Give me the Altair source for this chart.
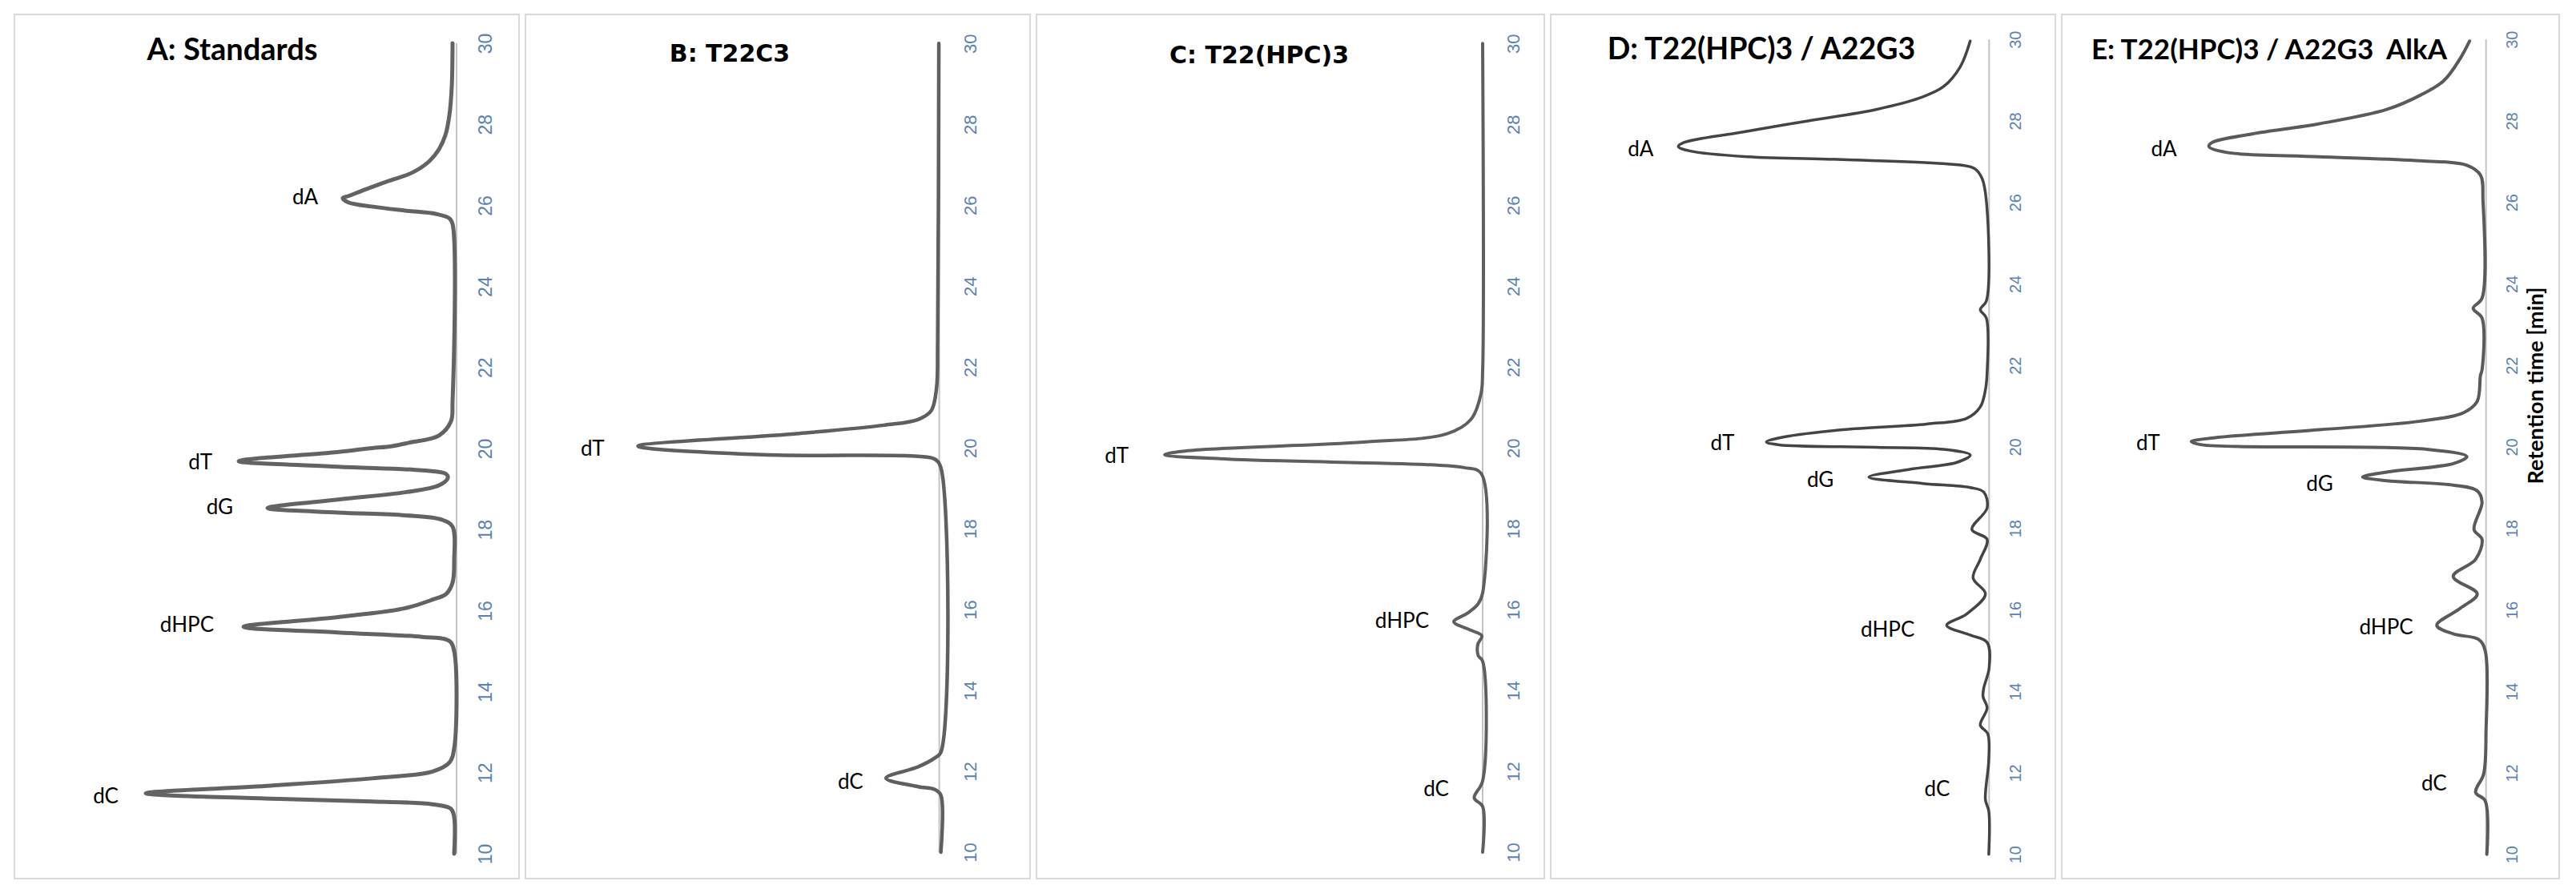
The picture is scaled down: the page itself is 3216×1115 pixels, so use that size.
import altair as alt
import pandas as pd

# ---------------- data (retention time [min], detector signal [a.u.]) ----------------
TICKS = [10, 12, 14, 16, 18, 20, 22, 24, 26, 28, 30]
AX_SPAN = [10, 30]

TITLES = ["A: Standards", "B: T22C3", "C: T22(HPC)3",
          "D: T22(HPC)3 / A22G3", "E: T22(HPC)3 / A22G3\u00a0 AlkA"]
Y_TITLE = "Retention time [min]"

# Panel A: standards
T_A = [30.0, 28.93, 28.22, 27.73, 27.38, 27.09, 26.81, 26.60, 26.39, 26.23, 26.18, 26.07, 25.97,
       25.87, 25.79, 25.68, 25.54, 21.17, 20.67, 20.32, 20.14, 20.06, 20.00, 19.90, 19.69, 19.55,
       19.46, 19.37, 19.27, 19.09, 18.92, 18.74, 18.53, 18.42, 18.35, 18.24, 18.07, 17.25, 16.69,
       16.41, 16.27, 16.06, 15.84, 15.60, 15.46, 15.35, 15.25, 15.00, 12.60, 12.25, 12.03, 11.86,
       11.68, 11.49, 11.36, 11.29, 11.22, 11.11, 10.90, 10.0]
S_A = [5, 6, 9, 14, 22, 34, 55, 85, 114, 135, 142, 135, 106,
       64, 26, 9, 5, 5, 7, 22, 60, 80, 110, 155, 272, 148,
       43, 13, 11, 22, 64, 148, 236, 148, 64, 18, 5, 3, 5,
       13, 30, 64, 148, 266, 148, 43, 9, 3, 3, 9, 30, 106,
       232, 388, 232, 106, 30, 7, 3, 3]
LBL_A = ["dA", "dT", "dG", "dHPC", "dC"]
LBL_A_T = [26.19, 19.65, 18.53, 15.63, 11.40]
LBL_A_S = [173, 305, 279, 303, 422]

# Panel B: T22C3
T_B = [30.0, 22.61, 21.48, 20.92, 20.70, 20.56, 20.35, 20.04, 19.83, 19.79, 19.72, 19.51,
       12.47, 12.33, 12.11, 11.83, 11.62, 11.55, 11.41, 10.0]
S_B = [0.5, 2, 3.4, 10, 26.5, 69, 178, 376, 220, 26.5, 5.5, -2,
       -2, 5.5, 26.5, 66.5, 26.5, 5.5, -2, -2]
LBL_B = ["dT", "dC"]
LBL_B_T = [19.96, 11.73]
LBL_B_S = [418, 95]

# Panel C: T22(HPC)3
T_C = [30.0, 21.90, 21.34, 20.70, 20.35, 20.14, 19.93, 19.83, 19.72, 19.58, 19.51, 19.37,
       16.41, 16.13, 15.91, 15.70, 15.49, 15.35, 15.14, 14.86, 14.72, 11.76, 11.34, 11.13, 10.0]
S_C = [0, 0, 2, 14.7, 44, 149, 368, 397, 318, 65, 23, 2,
       0, 6, 19, 36, 15, 1, 6, 5.5, 0, 0, 10.5, 0, 0]
LBL_C = ["dT", "dHPC", "dC"]
LBL_C_T = [19.79, 15.70, 11.55]
LBL_C_S = [442, 67, 42]

# Panel D: T22(HPC)3 / A22G3
T_D = [29.96, 29.33, 28.84, 28.56, 28.28, 28.00, 27.72, 27.47, 27.37, 27.26, 27.12, 27.05,
       26.95, 26.84, 26.60, 26.03, 23.58, 23.37, 23.16, 21.82, 21.40, 20.98, 20.70, 20.56,
       20.42, 20.22, 20.12, 20.05, 19.99, 19.94, 19.80, 19.62, 19.45, 19.26, 19.10, 19.00,
       18.89, 18.50, 17.97, 17.73, 17.24, 16.78, 16.39, 15.90, 15.62, 15.38, 15.20, 14.57,
       14.08, 13.87, 13.59, 13.17, 12.96, 12.32, 11.34, 11.06, 10.0]
S_D = [23.6, 36, 57, 87, 141, 226, 310, 381, 388, 373, 301, 183,
       57, 19, 9, 3.4, 3.4, 11, 3.4, 2.5, 4.6, 11, 28, 78,
       183, 262, 278, 262, 141, 57, 23.6, 40, 99, 150, 82.5, 23.6,
       6.7, 2.5, 21.5, 2.5, 11, 20, 4.6, 28, 53, 23.6, 2.5, 0,
       6.7, 7.6, 2.5, 11, 1.7, 0.4, 4.6, 0.4, 0.4]
LBL_D = ["dA", "dT", "dG", "dHPC", "dC"]
LBL_D_T = [27.30, 20.08, 19.17, 15.50, 11.59]
LBL_D_S = [419, 318, 194, 93, 49]

# Panel E: T22(HPC)3 / A22G3 AlkA
T_E = [29.96, 29.54, 28.98, 28.63, 28.28, 27.93, 27.68, 27.47, 27.37, 27.23, 27.12, 27.02,
       26.91, 26.67, 26.04, 23.65, 23.40, 23.16, 21.89, 21.75, 21.12, 20.84, 20.63, 20.42,
       20.22, 20.13, 20.05, 19.94, 19.76, 19.59, 19.38, 19.26, 19.17, 19.06, 18.92, 18.64,
       17.97, 17.73, 17.24, 16.82, 16.39, 16.04, 15.62, 15.41, 15.27, 14.99, 13.03, 11.97,
       11.52, 11.31, 10.0]
S_E = [20.5, 32, 53, 82, 124, 208, 292, 342, 346, 325, 208, 82,
       24, 7, 3.8, 5, 16, 5, 5, 7, 11, 28, 82, 208,
       340, 368, 355, 74, 24, 41, 124, 154, 124, 41, 11, 5,
       15, 5, 13, 41, 11, 32, 61.5, 41, 9, 1, 0, 3,
       13, 1, -1]
LBL_E = ["dA", "dT", "dG", "dHPC", "dC"]
LBL_E_T = [27.30, 20.07, 19.07, 15.55, 11.73]
LBL_E_S = [386, 407, 191, 91, 49]

# ---------------- styling / layout ----------------
H = 1079
AXIS_LABEL_COLOR = "#5a82b5"


def panel(t, s, lt, ls, ltxt, title, width, sdom, ydom, lpad, lsize, tdx, toff, tfont, tsize,
          color, sw, ytitle=None):
    xs = alt.Scale(domain=sdom, reverse=True, nice=False, zero=False)
    ys = alt.Scale(domain=ydom, nice=False, zero=False)
    trace = pd.DataFrame({"t": t, "s": s})
    labels = pd.DataFrame({"t": lt, "s": ls, "lbl": ltxt})
    span = pd.DataFrame({"s": [0], "t": [AX_SPAN[0]], "t1": [AX_SPAN[1]]})

    axis_kw = dict(orient="right", offset=sdom[0], values=TICKS, domain=False, ticks=False,
                   tickSize=0, grid=False, labelAngle=270, labelAlign="center",
                   labelBaseline="middle", labelPadding=lpad, labelFont="Liberation Sans",
                   labelFontSize=lsize, labelColor=AXIS_LABEL_COLOR, labelFlush=False,
                   labelOverlap=False)
    if ytitle:
        axis_kw.update(title=ytitle, titleAngle=270, titleX=63, titleY=463,
                       titleAlign="center", titleBaseline="middle", titleFont="Lato",
                       titleFontSize=27, titleFontWeight="bold", titleColor="black")
    else:
        axis_kw.update(title=None)
    yaxis = alt.Axis(**axis_kw)

    X = alt.X("s:Q", scale=xs, axis=None)
    Y = alt.Y("t:Q", scale=ys, axis=yaxis)

    rule = alt.Chart(span).mark_rule(color="#c3c3c3", strokeWidth=2).encode(
        x=X, y=Y, y2="t1:Q",
    )
    line = alt.Chart(trace).mark_line(
        color=color, strokeWidth=sw, interpolate="catmull-rom",
        strokeJoin="round", strokeCap="round"
    ).encode(
        x=X, y=Y, order=alt.Order("t:Q", sort="descending"),
    )
    text = alt.Chart(labels).mark_text(
        align="right", baseline="middle", font="Lato", fontSize=26, color="black"
    ).encode(
        x=X, y=Y, text="lbl:N",
    )
    return alt.layer(rule, line, text).properties(
        width=width, height=H,
        title=alt.TitleParams(title, anchor="middle", offset=toff, baseline="middle",
                              dx=tdx, font=tfont, fontSize=tsize, fontWeight="bold",
                              color="black"),
    )


pA = panel(T_A, S_A, LBL_A_T, LBL_A_S, LBL_A, TITLES[0], 630, [-78, 552],
           [9.387, 30.711], 36.5, 23, -43, -84, "Lato", 38, "#636363", 5)
pB = panel(T_B, S_B, LBL_B_T, LBL_B_S, LBL_B, TITLES[1], 630, [-113.4, 516.6],
           [9.346, 30.719], 38.5, 22, -60, -80, "DejaVu Sans", 30, "#5f5f5f", 4.5)
pC = panel(T_C, S_C, LBL_C_T, LBL_C_S, LBL_C, TITLES[2], 634, [-77, 557],
           [9.346, 30.719], 38, 22, -39, -82, "DejaVu Sans", 30, "#5f5f5f", 4)
pD = panel(T_D, S_D, LBL_D_T, LBL_D_S, LBL_D, TITLES[3], 630, [-82.7, 547.3],
           [9.404, 30.613], 33, 20, -52, -82, "Lato", 37.5, "#444444", 3.5)
pE = panel(T_E, S_E, LBL_E_T, LBL_E_S, LBL_E, TITLES[4], 621, [-91.3, 529.7],
           [9.404, 30.613], 33, 20, -51.5, -80, "Lato", 35, "#5a5a5a", 4, ytitle=Y_TITLE)

chart = alt.hconcat(pA, pB, pC, pD, pE, spacing=8, bounds="flush").properties(
    padding={"left": 9, "top": 9, "right": 0, "bottom": 0},
    background="white",
).configure_view(stroke="#d9d9d9", strokeWidth=2)

chart.save("out.html", embed_options={"renderer": "svg", "actions": False})
